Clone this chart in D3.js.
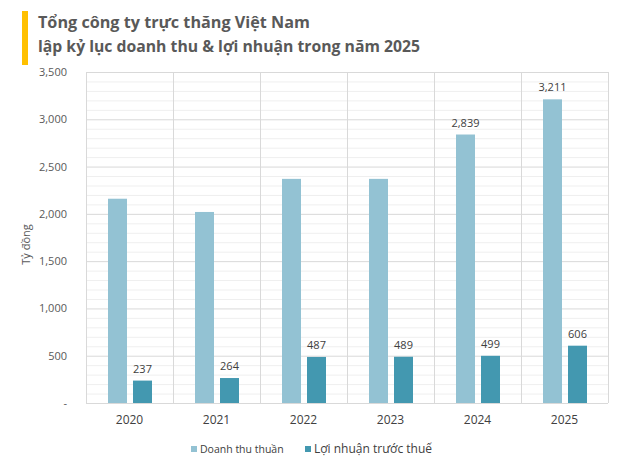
<!DOCTYPE html>
<html>
<head>
<meta charset="utf-8">
<script src="https://cdn.jsdelivr.net/npm/d3@7"></script>
<style>
  body { margin: 0; background: #fff; }
  svg { display: block; font-family: "Open Sans", "Noto Sans", sans-serif; }
</style>
</head>
<body>
<svg id="chart"></svg>
<script>
// data
var years = ['2020', '2021', '2022', '2023', '2024', '2025'];
var revenue = [2160, 2020, 2370, 2370, 2839, 3211];
var profit = [237, 264, 487, 489, 499, 606];
var revenueLabels = [null, null, null, null, '2,839', '3,211'];
var seriesNames = ['Doanh thu thuần', 'Lợi nhuận trước thuế'];
var yTicks = [0, 500, 1000, 1500, 2000, 2500, 3000, 3500];

var svgWidth = 622, svgHeight = 470;
var margin = { top: 72, right: 14, bottom: 67, left: 86 };
var width = svgWidth - margin.left - margin.right,
    height = svgHeight - margin.top - margin.bottom;

var svg = d3.select('#chart')
    .attr('width', svgWidth)
    .attr('height', svgHeight);

// title
svg.append('rect')
    .attr('x', 22).attr('y', 11)
    .attr('width', 6).attr('height', 54)
    .attr('fill', '#ffc000');
svg.append('text')
    .attr('x', 38).attr('y', 28)
    .attr('font-size', 16.2).attr('font-weight', 'bold')
    .attr('fill', '#595959')
    .text('Tổng công ty trực thăng Việt Nam');
svg.append('text')
    .attr('x', 38).attr('y', 52)
    .attr('font-size', 16.2).attr('font-weight', 'bold')
    .attr('fill', '#595959')
    .attr('textLength', 382).attr('lengthAdjust', 'spacingAndGlyphs')
    .text('lập kỷ lục doanh thu & lợi nhuận trong năm 2025');

var g = svg.append('g')
    .attr('transform', 'translate(' + margin.left + ',' + margin.top + ')');

var x = d3.scaleBand()
    .domain(years)
    .range([0, width]);
var y = d3.scaleLinear()
    .domain([0, 3500])
    .range([height, 0]);

// minor gridlines every 100
g.append('g')
    .selectAll('line')
    .data(d3.range(100, 3500, 100).filter(v => v % 500 !== 0))
    .join('line')
    .attr('x1', 0).attr('x2', width)
    .attr('y1', d => y(d) + 0.5).attr('y2', d => y(d) + 0.5)
    .attr('stroke', '#efefef');

// major gridlines
g.append('g')
    .selectAll('line')
    .data(yTicks)
    .join('line')
    .attr('x1', 0).attr('x2', width)
    .attr('y1', d => y(d) + 0.5).attr('y2', d => y(d) + 0.5)
    .attr('stroke', '#d9d9d9');

// vertical category separators
g.append('g')
    .selectAll('line')
    .data(years.concat(['end']))
    .join('line')
    .attr('x1', (d, i) => Math.round(i * x.step()) + 0.5)
    .attr('x2', (d, i) => Math.round(i * x.step()) + 0.5)
    .attr('y1', 0).attr('y2', height)
    .attr('stroke', '#d9d9d9');

// y axis labels
svg.append('g')
    .attr('transform', 'translate(' + margin.left + ',' + margin.top + ')')
    .call(d3.axisLeft(y).tickValues(yTicks).tickSize(0).tickPadding(19)
        .tickFormat(d => d === 0 ? '-' : d3.format(',')(d)))
    .call(a => a.select('.domain').remove())
    .selectAll('text')
    .attr('font-size', 11)
    .attr('font-family', '"Open Sans", "Noto Sans", sans-serif')
    .attr('fill', '#595959');

svg.append('text')
    .attr('transform', 'translate(30,' + (margin.top + height / 2 + 7) + ') rotate(-90)')
    .attr('text-anchor', 'middle')
    .attr('font-size', 11)
    .attr('fill', '#595959')
    .text('Tỷ đồng');

// x axis labels
svg.append('g')
    .attr('transform', 'translate(' + margin.left + ',' + (margin.top + height) + ')')
    .call(d3.axisBottom(x).tickSize(0).tickPadding(12))
    .call(a => a.select('.domain').remove())
    .selectAll('text')
    .attr('font-size', 12)
    .attr('font-family', '"Open Sans", "Noto Sans", sans-serif')
    .attr('fill', '#404040');

// bars
var barW = 19, offset = 22, gap = 6;
var colors = ['#93c2d3', '#4398b0'];

g.append('g')
    .selectAll('rect')
    .data(revenue)
    .join('rect')
    .attr('x', (d, i) => x(years[i]) + offset)
    .attr('y', d => y(d))
    .attr('width', barW)
    .attr('height', d => height - y(d))
    .attr('fill', colors[0]);

g.append('g')
    .selectAll('rect')
    .data(profit)
    .join('rect')
    .attr('x', (d, i) => x(years[i]) + offset + barW + gap)
    .attr('y', d => y(d))
    .attr('width', barW)
    .attr('height', d => height - y(d))
    .attr('fill', colors[1]);

// data labels
g.append('g')
    .selectAll('text')
    .data(revenue)
    .join('text')
    .filter((d, i) => revenueLabels[i] !== null)
    .attr('x', (d, i) => x(years[4 + i]) + offset + barW / 2)
    .attr('y', d => y(d) - 8)
    .attr('text-anchor', 'middle')
    .attr('font-size', 11)
    .attr('fill', '#404040')
    .text((d, i) => d3.format(',')(d));

g.append('g')
    .selectAll('text')
    .data(profit)
    .join('text')
    .attr('x', (d, i) => x(years[i]) + offset + barW + gap + barW / 2)
    .attr('y', d => y(d) - 8)
    .attr('text-anchor', 'middle')
    .attr('font-size', 11)
    .attr('fill', '#404040')
    .text(d => d);

// legend
var legend = svg.append('g').attr('transform', 'translate(191,449)');
var legendX = [0, 114];
seriesNames.forEach(function (name, i) {
    legend.append('rect')
        .attr('x', legendX[i]).attr('y', -3)
        .attr('width', 6).attr('height', 6)
        .attr('fill', colors[i]);
    legend.append('text')
        .attr('x', legendX[i] + 9).attr('y', 4)
        .attr('font-size', i === 0 ? 10.5 : 12)
        .attr('fill', '#404040')
        .text(name);
});
</script>
</body>
</html>
